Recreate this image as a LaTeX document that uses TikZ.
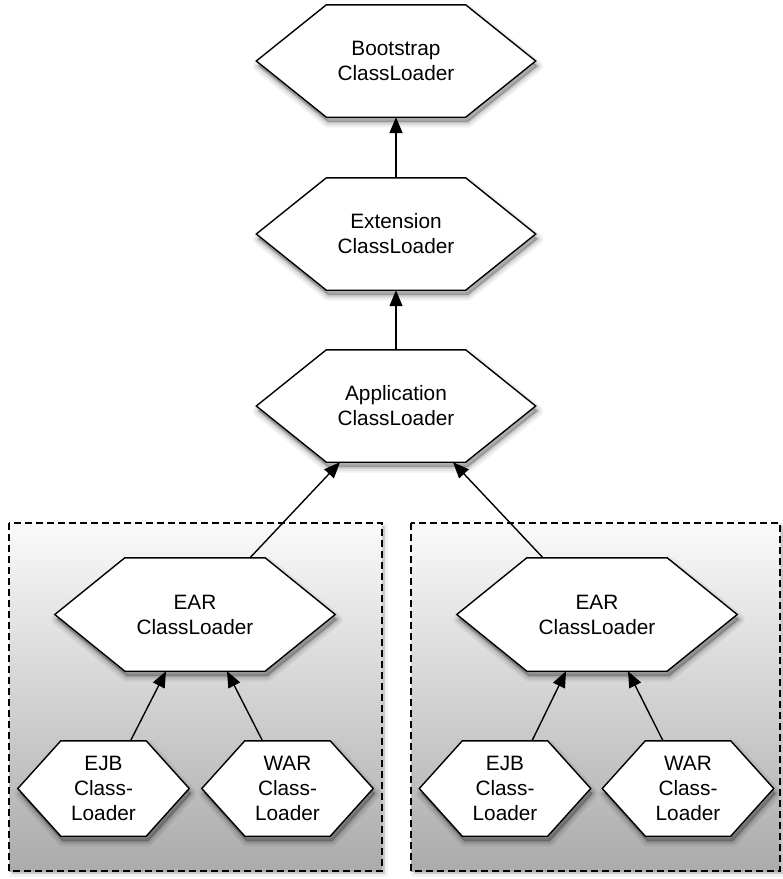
\documentclass[tikz,border=0pt]{standalone}
\usepackage{fontspec}
\setmainfont{Liberation Sans}
\usetikzlibrary{arrows.meta}
\pgfdeclarelayer{bg}
\pgfdeclarelayer{mid}
\pgfsetlayers{bg,mid,main}
\tikzset{
  lbl/.style={inner sep=0pt, align=center, font=\fontsize{20.8}{25}\selectfont},
  bigloader/.style={lbl, minimum width=279pt, minimum height=112pt},
  earloader/.style={lbl, minimum width=280pt, minimum height=113pt},
  smallloader/.style={lbl, minimum width=171pt, minimum height=95pt},
  hexline/.style={fill=white, draw=black, line width=1.4pt, line join=miter,
    preaction={draw=black, line width=11pt, opacity=0.05, line join=round, transform canvas={xshift=2pt,yshift=-5pt}},
    preaction={draw=black, line width=7pt, opacity=0.07, line join=round, transform canvas={xshift=2pt,yshift=-5pt}},
    preaction={draw=black, line width=3pt, opacity=0.1, line join=round, transform canvas={xshift=2pt,yshift=-5pt}},
    preaction={fill=black, opacity=0.25, transform canvas={xshift=2pt,yshift=-5pt}}},
  groupbox/.style={draw=black, dashed, dash pattern=on 7pt off 4pt, line width=1.2pt,
    top color=black!2, bottom color=black!33,
    preaction={fill=black, opacity=0.05, line join=round, draw=black, line width=6pt, transform canvas={xshift=3pt,yshift=-3pt}},
    preaction={fill=black, opacity=0.12, transform canvas={xshift=3pt,yshift=-3pt}}},
  arr/.style={-{Triangle[length=16pt,width=13pt]}, line width=1.4pt}
}
\begin{document}
\begin{tikzpicture}[x=1pt,y=-1pt]
\useasboundingbox (0,0) rectangle (783,879);

% group boxes
\begin{pgfonlayer}{bg}
\path[groupbox] (9,523) rectangle (382,871);
\path[groupbox] (411,523) rectangle (780,871);
\end{pgfonlayer}

% nodes (text)
\node[bigloader] (boot) at (396,61) {Bootstrap\\ClassLoader};
\node[bigloader] (ext) at (396,234) {Extension\\ClassLoader};
\node[bigloader] (app) at (396,406) {Application\\ClassLoader};
\node[earloader] (ear1) at (195,614.5) {EAR\\ClassLoader};
\node[earloader] (ear2) at (597,614.5) {EAR\\ClassLoader};
\node[smallloader] (ejb1) at (103.5,788.5) {EJB\\Class-\\Loader};
\node[smallloader] (war1) at (287.5,788.5) {WAR\\Class-\\Loader};
\node[smallloader] (ejb2) at (505,788.5) {EJB\\Class-\\Loader};
\node[smallloader] (war2) at (688,788.5) {WAR\\Class-\\Loader};

% hexagon outlines
\begin{pgfonlayer}{mid}
\foreach \n/\i in {boot/70,ext/70,app/70,ear1/70,ear2/70,ejb1/43,war1/43,ejb2/43,war2/43}{
  \path[hexline] (\n.west) -- ([xshift=\i pt]\n.north west) -- ([xshift=-\i pt]\n.north east)
    -- (\n.east) -- ([xshift=-\i pt]\n.south east) -- ([xshift=\i pt]\n.south west) -- cycle;
}
\end{pgfonlayer}

% connectors
\draw[arr] (ext.north) -- (boot.south);
\draw[arr] (app.north) -- (ext.south);
\draw[arr] ([xshift=55pt]ear1.north) -- ([xshift=-56pt]app.south);
\draw[arr] ([xshift=-54pt]ear2.north) -- ([xshift=57pt]app.south);
\draw[arr] ([xshift=27pt]ejb1.north) -- ([xshift=-29pt]ear1.south);
\draw[arr] ([xshift=-25pt]war1.north) -- ([xshift=32pt]ear1.south);
\draw[arr] ([xshift=27pt]ejb2.north) -- ([xshift=-31pt]ear2.south);
\draw[arr] ([xshift=-25pt]war2.north) -- ([xshift=31pt]ear2.south);
\end{tikzpicture}
\end{document}
